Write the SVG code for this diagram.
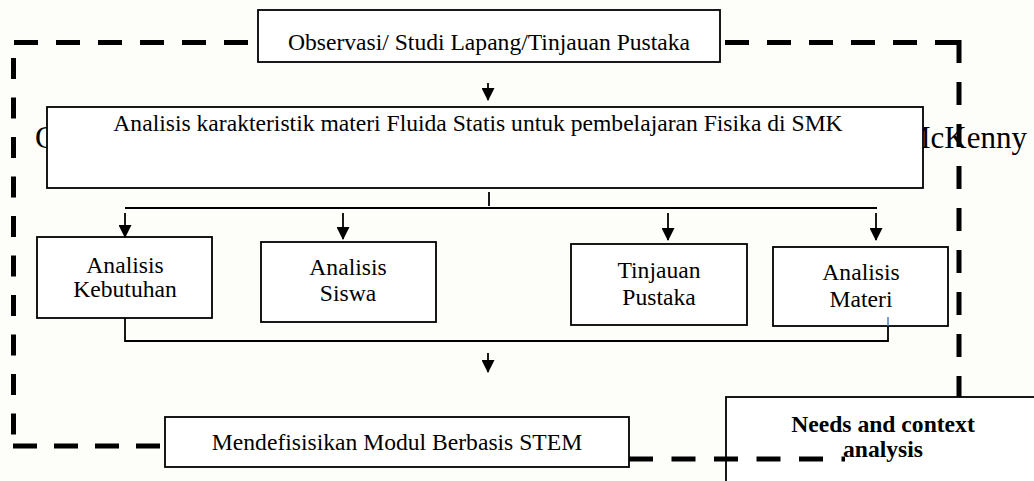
<svg xmlns="http://www.w3.org/2000/svg" width="1034" height="481" viewBox="0 0 1034 481">
<defs>
<marker id="ah" markerUnits="userSpaceOnUse" markerWidth="13" markerHeight="13" refX="12" refY="6.5" orient="auto">
<path d="M0,0 L13,6.5 L0,13 Z" fill="#000"/>
</marker>
<style>
.box{fill:#fff;stroke:#000;stroke-width:1.8}
.t{font-family:"Liberation Serif","Times New Roman",serif;font-size:23.6px;fill:#000}
.tb{font-family:"Liberation Serif","Times New Roman",serif;font-size:23.6px;font-weight:bold;fill:#000}
.big{font-family:"Liberation Serif","Times New Roman",serif;font-size:31px;fill:#000}
.dash{fill:none;stroke:#000;stroke-width:5}
.ln{fill:none;stroke:#000;stroke-width:1.8}
.ar{fill:none;stroke:#000;stroke-width:1.8;marker-end:url(#ah)}
</style>
</defs>
<rect width="1034" height="481" fill="#fdfdf9"/>
<text class="big" x="35" y="148">C</text>
<text class="big" x="1027" y="148" text-anchor="end">McKenny</text>
<g id="n-observasi">
<rect class="box" x="258" y="10" width="462" height="52"/>
<text class="t" x="489" y="50" text-anchor="middle">Observasi/ Studi Lapang/Tinjauan Pustaka</text>
</g>
<g id="n-analisis-karakteristik">
<rect class="box" x="47" y="107" width="876" height="81"/>
<text class="t" x="478" y="131" text-anchor="middle">Analisis karakteristik materi Fluida Statis untuk pembelajaran Fisika di SMK</text>
</g>
<g id="n-kebutuhan">
<rect class="box" x="37" y="237" width="175" height="81"/>
<text class="t" x="125" y="273" text-anchor="middle">Analisis</text>
<text class="t" x="125" y="297" text-anchor="middle">Kebutuhan</text>
</g>
<g id="n-siswa">
<rect class="box" x="261" y="242" width="175" height="80"/>
<text class="t" x="348" y="275" text-anchor="middle">Analisis</text>
<text class="t" x="348" y="301" text-anchor="middle">Siswa</text>
</g>
<g id="n-tinjauan">
<rect class="box" x="571" y="244" width="176" height="81"/>
<text class="t" x="659" y="278" text-anchor="middle">Tinjauan</text>
<text class="t" x="659" y="305" text-anchor="middle">Pustaka</text>
</g>
<g id="n-materi">
<rect class="box" x="773" y="247" width="175" height="79"/>
<text class="t" x="861" y="280" text-anchor="middle">Analisis</text>
<text class="t" x="861" y="307" text-anchor="middle">Materi</text>
</g>
<g id="n-mendefinisikan">
<rect class="box" x="165" y="417" width="464" height="50"/>
<text class="t" x="397" y="450" text-anchor="middle">Mendefisisikan Modul Berbasis STEM</text>
</g>
<g id="n-needs">
<rect class="box" x="726" y="397" width="320" height="100"/>
<text class="tb" x="883" y="432" text-anchor="middle">Needs and context</text>
<text class="tb" x="883" y="457" text-anchor="middle">analysis</text>
</g>
<g id="frame">
<path class="dash" d="M14 42.5 H258" stroke-dasharray="24 18"/>
<path class="dash" d="M725 42.5 H959" stroke-dasharray="24 18"/>
<path class="dash" d="M959 40 V397" stroke-dasharray="23 19"/>
<path class="dash" d="M13.5 58 V436" stroke-dasharray="21 18.5"/>
<path class="dash" d="M13 446 H165" stroke-dasharray="24 17"/>
<path class="dash" d="M629 459 H845" stroke-dasharray="24 18.5"/>
</g>
<g id="connectors">
<path class="ar" d="M488 83 V100"/>
<path class="ln" d="M489 192 V206"/>
<path class="ln" d="M125 208 H877"/>
<path class="ar" d="M125 213 V237"/>
<path class="ar" d="M343 213 V239"/>
<path class="ar" d="M668 213 V240"/>
<path class="ar" d="M876 213 V240"/>
<path class="ln" d="M125 318 V341 H888 V326"/>
<path fill="none" stroke="#4a7fc8" stroke-width="1.5" d="M888 326 V317"/>
<path class="ar" d="M488 353 V372"/>
</g>
</svg>
